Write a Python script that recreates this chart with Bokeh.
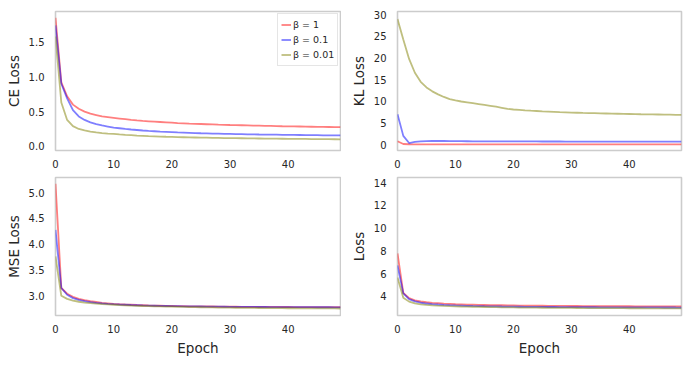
from bokeh.plotting import figure
from bokeh.layouts import column, row
from bokeh.models import Range1d, FixedTicker
from bokeh.embed import file_html
from bokeh.resources import INLINE

epochs = list(range(50))
series_labels = ["β = 1", "β = 0.1", "β = 0.01"]
series_colors = ["red", "blue", "olive"]

ce_b1 = [1.85, 0.92, 0.72, 0.60, 0.54, 0.50, 0.47, 0.45, 0.43, 0.42,
         0.41, 0.40, 0.39, 0.38, 0.372, 0.365, 0.36, 0.355, 0.35, 0.345,
         0.34, 0.335, 0.331, 0.327, 0.324, 0.321, 0.318, 0.315, 0.312, 0.31,
         0.307, 0.305, 0.303, 0.301, 0.299, 0.297, 0.295, 0.293, 0.291, 0.289,
         0.288, 0.286, 0.285, 0.283, 0.282, 0.280, 0.279, 0.278, 0.277, 0.276]
ce_b01 = [1.74, 0.90, 0.69, 0.52, 0.43, 0.38, 0.345, 0.32, 0.30, 0.285,
          0.27, 0.26, 0.25, 0.242, 0.235, 0.228, 0.222, 0.217, 0.212, 0.208,
          0.204, 0.200, 0.197, 0.194, 0.191, 0.188, 0.186, 0.184, 0.182, 0.180,
          0.178, 0.176, 0.175, 0.173, 0.172, 0.170, 0.169, 0.168, 0.167, 0.166,
          0.165, 0.164, 0.163, 0.162, 0.161, 0.160, 0.159, 0.158, 0.158, 0.157]
ce_b001 = [1.58, 0.63, 0.38, 0.29, 0.25, 0.228, 0.212, 0.200, 0.191, 0.184,
           0.178, 0.171, 0.165, 0.160, 0.155, 0.151, 0.147, 0.144, 0.141, 0.138,
           0.136, 0.133, 0.131, 0.129, 0.127, 0.125, 0.124, 0.122, 0.121, 0.119,
           0.118, 0.117, 0.116, 0.115, 0.114, 0.113, 0.112, 0.111, 0.110, 0.109,
           0.108, 0.107, 0.106, 0.106, 0.105, 0.104, 0.103, 0.103, 0.102, 0.101]

kl_b1 = [0.75, 0.12, 0.06, 0.05, 0.05, 0.05, 0.05, 0.05, 0.05, 0.05,
         0.05, 0.05, 0.05, 0.05, 0.05, 0.05, 0.05, 0.05, 0.05, 0.05,
         0.04, 0.04, 0.04, 0.04, 0.04, 0.04, 0.04, 0.04, 0.04, 0.04,
         0.04, 0.04, 0.04, 0.04, 0.04, 0.04, 0.04, 0.04, 0.04, 0.04,
         0.03, 0.03, 0.03, 0.03, 0.03, 0.03, 0.03, 0.03, 0.03, 0.03]
kl_b01 = [7.0, 2.0, 0.35, 0.6, 0.72, 0.78, 0.82, 0.83, 0.82, 0.80,
          0.78, 0.77, 0.76, 0.75, 0.75, 0.74, 0.74, 0.73, 0.73, 0.72,
          0.72, 0.72, 0.71, 0.71, 0.71, 0.70, 0.70, 0.70, 0.70, 0.69,
          0.69, 0.69, 0.69, 0.68, 0.68, 0.68, 0.68, 0.68, 0.67, 0.67,
          0.67, 0.67, 0.67, 0.66, 0.66, 0.66, 0.66, 0.66, 0.65, 0.65]
kl_b001 = [29.0, 24.3, 19.8, 16.6, 14.5, 13.2, 12.3, 11.6, 11.0, 10.5,
           10.2, 9.95, 9.75, 9.55, 9.35, 9.15, 8.95, 8.75, 8.5, 8.25,
           8.1, 8.0, 7.9, 7.82, 7.75, 7.68, 7.62, 7.56, 7.5, 7.45,
           7.4, 7.35, 7.3, 7.27, 7.24, 7.21, 7.18, 7.15, 7.12, 7.09,
           7.06, 7.03, 7.0, 6.98, 6.96, 6.94, 6.92, 6.9, 6.88, 6.86]

mse_b1 = [5.17, 3.16, 3.05, 2.99, 2.95, 2.925, 2.905, 2.89, 2.875, 2.865,
          2.855, 2.848, 2.842, 2.837, 2.832, 2.828, 2.824, 2.821, 2.818, 2.815,
          2.813, 2.811, 2.809, 2.807, 2.806, 2.805, 2.804, 2.803, 2.802, 2.801,
          2.800, 2.799, 2.798, 2.797, 2.797, 2.796, 2.796, 2.795, 2.795, 2.794,
          2.794, 2.793, 2.793, 2.792, 2.792, 2.791, 2.791, 2.791, 2.790, 2.790]
mse_b01 = [4.28, 3.16, 3.03, 2.965, 2.93, 2.905, 2.888, 2.874, 2.863, 2.855,
           2.848, 2.842, 2.837, 2.832, 2.828, 2.824, 2.821, 2.818, 2.815, 2.813,
           2.811, 2.809, 2.807, 2.805, 2.804, 2.803, 2.802, 2.801, 2.800, 2.799,
           2.798, 2.797, 2.796, 2.795, 2.795, 2.794, 2.794, 2.793, 2.793, 2.792,
           2.792, 2.791, 2.791, 2.790, 2.790, 2.789, 2.789, 2.789, 2.788, 2.788]
mse_b001 = [3.77, 3.01, 2.95, 2.915, 2.895, 2.88, 2.868, 2.858, 2.85, 2.843,
            2.837, 2.831, 2.826, 2.821, 2.817, 2.813, 2.81, 2.807, 2.804, 2.802,
            2.8, 2.797, 2.795, 2.793, 2.791, 2.789, 2.787, 2.785, 2.783, 2.782,
            2.780, 2.779, 2.778, 2.777, 2.776, 2.775, 2.774, 2.773, 2.772, 2.771,
            2.770, 2.770, 2.769, 2.768, 2.768, 2.767, 2.767, 2.766, 2.766, 2.765]

loss_b1 = [7.77, 4.3, 3.83, 3.64, 3.54, 3.475, 3.425, 3.39, 3.355, 3.335,
           3.305, 3.29, 3.27, 3.26, 3.245, 3.235, 3.225, 3.215, 3.21, 3.20,
           3.195, 3.185, 3.18, 3.175, 3.17, 3.165, 3.16, 3.158, 3.154, 3.151,
           3.147, 3.144, 3.141, 3.138, 3.136, 3.133, 3.131, 3.128, 3.126, 3.123,
           3.122, 3.119, 3.118, 3.115, 3.114, 3.111, 3.11, 3.109, 3.107, 3.106]
loss_b01 = [6.72, 4.26, 3.755, 3.545, 3.432, 3.363, 3.315, 3.277, 3.245, 3.218,
            3.196, 3.179, 3.163, 3.149, 3.138, 3.126, 3.117, 3.108, 3.1, 3.093,
            3.087, 3.081, 3.075, 3.07, 3.066, 3.061, 3.058, 3.055, 3.052, 3.048,
            3.045, 3.042, 3.04, 3.036, 3.035, 3.032, 3.031, 3.029, 3.027, 3.025,
            3.024, 3.022, 3.021, 3.019, 3.017, 3.016, 3.015, 3.014, 3.011, 3.01]
loss_b001 = [5.64, 3.88, 3.53, 3.37, 3.29, 3.24, 3.203, 3.174, 3.151, 3.132,
             3.117, 3.102, 3.089, 3.077, 3.065, 3.056, 3.047, 3.039, 3.03, 3.023,
             3.017, 3.01, 3.005, 3.0, 2.995, 2.991, 2.987, 2.982, 2.979, 2.975,
             2.972, 2.969, 2.967, 2.965, 2.962, 2.96, 2.958, 2.956, 2.953, 2.951,
             2.949, 2.947, 2.946, 2.945, 2.943, 2.941, 2.939, 2.938, 2.936, 2.935]

x_ticks = [0, 10, 20, 30, 40]
x_tick_labels = ["0", "10", "20", "30", "40"]
ce_ticks = [0.0, 0.5, 1.0, 1.5]
ce_tick_labels = ["0.0", "0.5", "1.0", "1.5"]
kl_ticks = [0, 5, 10, 15, 20, 25, 30]
kl_tick_labels = ["0", "5", "10", "15", "20", "25", "30"]
mse_ticks = [3.0, 3.5, 4.0, 4.5, 5.0]
mse_tick_labels = ["3.0", "3.5", "4.0", "4.5", "5.0"]
loss_ticks = [4, 6, 8, 10, 12, 14]
loss_tick_labels = ["4", "6", "8", "10", "12", "14"]

FONT = "DejaVu Sans"
TXT = "#262626"


def make_fig(width, height, bl, br, bt, bb, yr, yticks, ylabels, ylabel, xlabel=None):
    p = figure(width=width, height=height, x_range=Range1d(0, 49), y_range=Range1d(*yr),
               output_backend="svg", toolbar_location=None,
               min_border_left=bl, min_border_right=br, min_border_top=bt, min_border_bottom=bb)
    p.grid.visible = False
    p.outline_line_color = "#cccccc"
    p.outline_line_width = 1.6
    p.background_fill_color = "white"
    p.border_fill_color = "white"
    p.xaxis.ticker = FixedTicker(ticks=x_ticks)
    p.xaxis.major_label_overrides = dict(zip(x_ticks, x_tick_labels))
    p.yaxis.ticker = FixedTicker(ticks=yticks)
    p.yaxis.major_label_overrides = dict(zip(yticks, ylabels))
    for ax in list(p.xaxis) + list(p.yaxis):
        ax.axis_line_color = None
        ax.major_tick_line_color = None
        ax.minor_tick_line_color = None
        ax.major_tick_out = 0
        ax.major_tick_in = 0
        ax.minor_tick_out = 0
        ax.minor_tick_in = 0
        ax.major_label_text_font = FONT
        ax.major_label_text_font_size = "10px"
        ax.major_label_text_color = TXT
        ax.axis_label_text_font = FONT
        ax.axis_label_text_font_size = "13.5px"
        ax.axis_label_text_font_style = "normal"
        ax.axis_label_text_color = TXT
    p.xaxis.major_label_standoff = 9
    p.yaxis.major_label_standoff = 11
    p.yaxis.axis_label = ylabel
    p.yaxis.axis_label_standoff = 4
    if xlabel:
        p.xaxis.axis_label = xlabel
        p.xaxis.axis_label_standoff = 4
    return p


def add_lines(p, ys, legend=False):
    for y, c, lab in zip(ys, series_colors, series_labels):
        if legend:
            p.line(epochs, y, line_color=c, line_alpha=0.5, line_width=1.8, legend_label=lab)
        else:
            p.line(epochs, y, line_color=c, line_alpha=0.5, line_width=1.8)


p1 = make_fig(341, 172, 55, 1, 11, 22, (-0.06, 1.94), ce_ticks, ce_tick_labels, "CE Loss")
add_lines(p1, [ce_b1, ce_b01, ce_b001], legend=True)
lg = p1.legend[0]
lg.location = (222, 84)
lg.margin = 0
lg.padding = 3
lg.spacing = 0
lg.label_height = 15
lg.glyph_height = 15
lg.glyph_width = 10
lg.label_standoff = 2
lg.border_line_color = "#cccccc"
lg.border_line_width = 1
lg.background_fill_alpha = 0.8
lg.label_text_font = FONT
lg.label_text_font_size = "9.5px"
lg.label_text_color = TXT

p2 = make_fig(351, 172, 56, 11, 11, 22, (-1.38, 30.76), kl_ticks, kl_tick_labels, "KL Loss")
add_lines(p2, [kl_b1, kl_b01, kl_b001])

p3 = make_fig(341, 186, 55, 1, 5, 42, (2.63, 5.29), mse_ticks, mse_tick_labels, "MSE Loss", "Epoch")
add_lines(p3, [mse_b1, mse_b01, mse_b001])

p4 = make_fig(351, 186, 56, 11, 5, 42, (2.31, 14.44), loss_ticks, loss_tick_labels, "Loss", "Epoch")
add_lines(p4, [loss_b1, loss_b01, loss_b001])

layout = column(row(p1, p2), row(p3, p4))
open("out.html", "w").write(file_html(layout, INLINE))
